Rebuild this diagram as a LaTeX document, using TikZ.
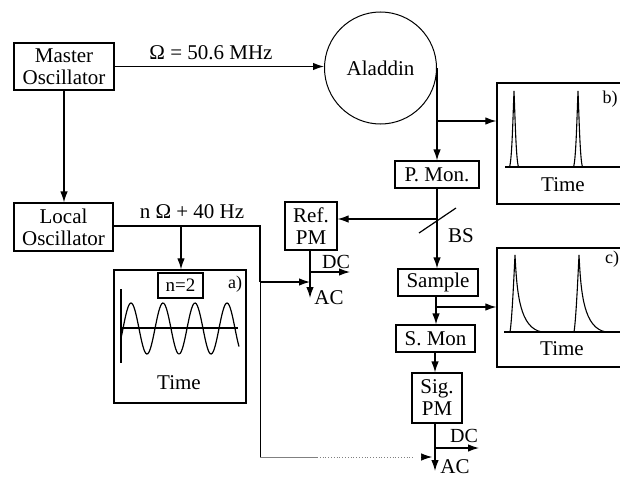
\documentclass[tikz,border=0pt]{standalone}
\usepackage{fontspec}
\setmainfont{Liberation Serif}
\usetikzlibrary{arrows.meta, calc}

\begin{document}
\begin{tikzpicture}[
    x=1pt, y=-1pt,
    line width=1.2pt,
    font=\fontsize{21}{22}\selectfont,
    sig/.style={-{Latex[length=11pt,width=7.5pt]}},
    bloco/.style={draw, align=center, inner sep=0pt, minimum width=#1},
    painel/.style={draw, line width=1.3pt, inner sep=0pt, minimum width=#1},
    rotulo/.style={inner sep=0pt, font=\fontsize{18}{19}\selectfont},
    texto/.style={inner sep=0pt}
]
    \useasboundingbox (0,0) rectangle (620,479);

    % 1. Blocos principais
    \node[bloco=100pt, minimum height=47pt] (master) at (64,66.5) {Master\\Oscillator};
    \node[bloco=99pt, minimum height=48pt] (local) at (63.5,227) {Local\\Oscillator};
    \node[draw, circle, minimum size=112pt, inner sep=0pt, line width=1pt] (aladdin) at (380.5,68) {Aladdin};
    \node[bloco=84pt, minimum height=27pt] (pmon) at (437,174.5) {P. Mon.};
    \node[bloco=80pt, minimum height=27pt] (sample) at (438,282.5) {Sample};
    \node[bloco=79pt, minimum height=27pt] (smon) at (435.5,338.5) {S. Mon};
    \node[bloco=50pt, minimum height=50pt] (sigpm) at (437,398) {Sig.\\PM};
    \node[bloco=52pt, minimum height=48pt] (refpm) at (311,226) {Ref.\\PM};

    % 2. Painel a
    \node[painel=132pt, minimum height=133pt] (pa) at (180,336.5) {};
    \node[bloco=45pt, minimum height=25pt, font=\fontsize{19}{20}\selectfont] (ntwo) at (180.5,285.5) {n=2};
    \node[rotulo] (la) at (235,284) {a)};
    \draw (121,289) -- (121,363);
    \draw (121,328) -- (238,328);
    \draw[domain=121:239, samples=120, smooth] plot (\x,{328.5-25.5*sin(11.25*(\x-123))});
    \node[texto] (ta) at (179,383) {Time};

    % 3. Painel b (cortado na margem)
    \node[painel=135pt, minimum height=121pt] (pb) at (564.5,143.5) {};
    \draw[line width=1.7pt] (505,167) -- (630,167);
    \foreach \px in {514,578}{
        \draw[line width=1.1pt] (\px-4.5,167) .. controls (\px-2,160) and (\px-1,115) .. (\px,91)
            .. controls (\px+1,115) and (\px+2,160) .. (\px+4.5,167);
    }
    \node[rotulo] (lb) at (610,99) {b)};
    \node[texto] (tb) at (563,185) {Time};

    % 4. Painel c (cortado na margem)
    \node[painel=135pt, minimum height=119pt] (pc) at (564.5,307.5) {};
    \draw[line width=1.7pt] (504,332) -- (630,332);
    \foreach \px in {515,579}{
        \draw[line width=1.1pt] (\px-5,332) .. controls (\px-3,320) and (\px-1,275) .. (\px,255)
            .. controls (\px+2,295) and (\px+5,328) .. (\px+27,332);
    }
    \node[rotulo] (lc) at (612,259) {c)};
    \node[texto] (tc) at (562,349) {Time};

    % 5. Pontos auxiliares
    \coordinate (sai) at (437,68);
    \coordinate (desvb) at (437,121);
    \coordinate (bs) at (437,219);
    \coordinate (bsa) at (419,233);
    \coordinate (bsb) at (456,208);
    \coordinate (desvc) at (436,307);
    \coordinate (canto) at (260,226);
    \coordinate (desva) at (181,226);
    \coordinate (meio) at (260,282);
    \coordinate (fundo) at (260,457);
    \coordinate (fimcheio) at (317,457);
    \coordinate (fimpontos) at (413,457);
    \coordinate (refj) at (310,282);
    \coordinate (refd) at (310,272);
    \coordinate (refdc) at (350,272);
    \coordinate (refac) at (310,298);
    \coordinate (sigj) at (435,457);
    \coordinate (sigd) at (435,448);
    \coordinate (sigdc) at (479,448);
    \coordinate (sigac) at (435,471);
    \coordinate (sigin) at (423,457);
    \coordinate (sigfim) at (432,457);

    % 6. Ligações
    \draw[sig] (master.east) -- (master.east -| aladdin.west);
    \draw[sig] (master) -- (master |- local.north);
    \draw (local.east |- canto) -- (canto) -- (meio);
    \draw[sig] (desva) -- (desva |- pa.north);
    \draw[line width=0.9pt] (meio) -- (fundo);
    \draw[line width=0.8pt, gray] (fundo) -- (fimcheio);
    \draw[line width=0.8pt, gray, dotted] (fimcheio) -- (fimpontos);
    \draw[sig, line width=0.7pt] (sigin) -- (sigfim);
    \draw[sig] (meio) -- (refj);
    \draw[sig] (refj |- refpm.south) -- (refac);
    \draw[sig] (refd) -- (refdc);

    \draw (aladdin.east) -- (sai);
    \draw[sig] (sai) -- (sai |- pmon.north);
    \draw[sig] (desvb) -- (desvb -| pb.west);
    \draw[sig] (bs) -- (bs -| refpm.east);
    \draw (bsa) -- (bsb);
    \draw[sig] (pmon.south) -- (pmon.south |- sample.north);
    \draw[sig] (desvc |- sample.south) -- (desvc |- smon.north);
    \draw[sig] (desvc) -- (desvc -| pc.west);
    \draw[sig] (sigj |- smon.south) -- (sigj |- sigpm.north);
    \draw[sig] (sigj |- sigpm.south) -- (sigac);
    \draw[sig] (sigd) -- (sigdc);

    % 7. Textos soltos
    \node[texto] (freq) at (211,53) {Ω = 50.6 MHz};
    \node[texto] (nfreq) at (192,212) {n Ω + 40 Hz};
    \node[texto] (bslabel) at (461,236) {BS};
    \node[texto, font=\fontsize{20}{21}\selectfont] (dca) at (336,262) {DC};
    \node[texto] (aca) at (329,298) {AC};
    \node[texto, font=\fontsize{20}{21}\selectfont] (dcb) at (464,436) {DC};
    \node[texto] (acb) at (455,467) {AC};

\end{tikzpicture}
\end{document}
